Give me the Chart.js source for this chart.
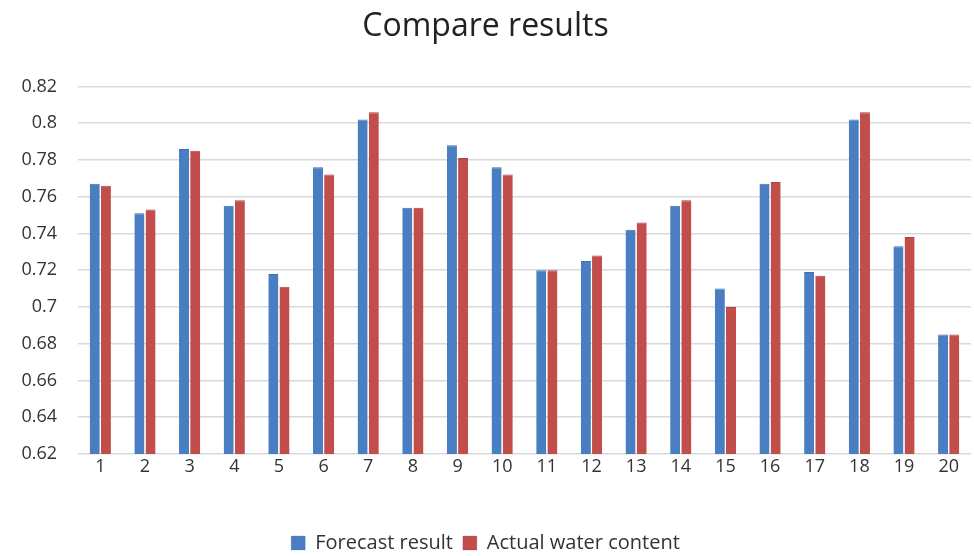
<!DOCTYPE html>
<html>
<head>
<meta charset="utf-8">
<script src="https://cdn.jsdelivr.net/npm/chart.js@4/dist/chart.umd.min.js"></script>
<style>
  html, body { margin: 0; padding: 0; background: #fff; }
  #wrap { width: 974px; height: 556px; }
</style>
</head>
<body>
<div id="wrap"><canvas id="c" width="974" height="556"></canvas></div>
<script>
// Sample numbers along the x axis
const categories = ['1','2','3','4','5','6','7','8','9','10','11','12','13','14','15','16','17','18','19','20'];

// Model output per sample
const forecastResult = [0.767, 0.751, 0.786, 0.755, 0.718, 0.776, 0.802, 0.754, 0.788, 0.776,
                        0.720, 0.725, 0.742, 0.755, 0.710, 0.767, 0.719, 0.802, 0.733, 0.685];

// Measured values per sample
const actualWaterContent = [0.766, 0.753, 0.785, 0.758, 0.711, 0.772, 0.806, 0.754, 0.781, 0.772,
                            0.720, 0.728, 0.746, 0.758, 0.700, 0.768, 0.717, 0.806, 0.738, 0.685];

// Value axis range and step
const yMin = 0.62, yMax = 0.82, yStep = 0.02;

const font = "'Open Sans', 'Noto Sans', sans-serif";

new Chart(document.getElementById('c'), {
  type: 'bar',
  data: {
    labels: categories,
    datasets: [
      {
        label: 'Forecast result',
        data: forecastResult,
        backgroundColor: '#4a7ec2',
        borderColor: '#3f6fae',
        borderWidth: { top: 1, left: 0, right: 0, bottom: 0 },
        categoryPercentage: 0.5,
        barPercentage: 0.9
      },
      {
        label: 'Actual water content',
        data: actualWaterContent,
        backgroundColor: '#c24e4b',
        borderColor: '#a94340',
        borderWidth: { top: 1, left: 0, right: 0, bottom: 0 },
        categoryPercentage: 0.5,
        barPercentage: 0.9
      }
    ]
  },
  options: {
    responsive: false,
    animation: false,
    layout: { padding: { left: 0, right: 3, top: 8, bottom: -7 } },
    plugins: {
      title: {
        display: true,
        text: 'Compare results',
        color: '#222',
        font: { family: font, size: 32, weight: 'normal' },
        padding: { top: 0, bottom: 40 }
      },
      legend: {
        position: 'bottom',
        labels: {
          color: '#333',
          font: { family: font, size: 20 },
          boxWidth: 14,
          boxHeight: 14,
          padding: 10
        }
      },
      tooltip: { enabled: false }
    },
    scales: {
      x: {
        grid: { display: false, drawTicks: false },
        border: { display: false },
        ticks: { color: '#333', font: { family: font, size: 18 }, padding: 2 },
        afterFit: s => { s.height = 69; }
      },
      y: {
        min: yMin,
        max: yMax,
        ticks: {
          stepSize: yStep,
          color: '#333',
          font: { family: font, size: 18 },
          padding: 21,
          callback: v => String(parseFloat(v.toFixed(2)))
        },
        grid: { color: '#d9d9d9', lineWidth: 1.5, drawTicks: false },
        border: { display: false },
        afterFit: s => { s.width = 78; }
      }
    }
  }
});
</script>
</body>
</html>
